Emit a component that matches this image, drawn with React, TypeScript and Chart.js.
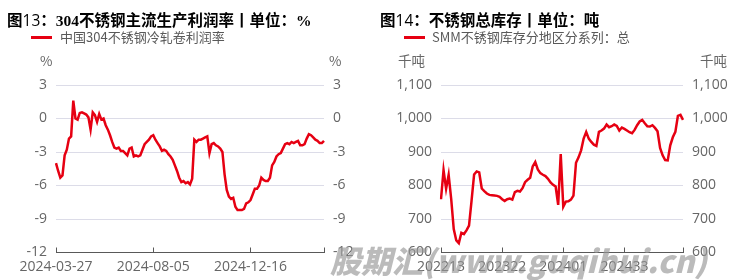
import React, { useEffect, useRef } from "react";
import { Chart, registerables } from "chart.js";

Chart.register(...registerables);

// ---------- Data ----------
const profitTickLabels = ["2024-03-27", "2024-08-05", "2024-12-16"];
const profitTickEvery = 45;
const profitValues = [
  -4.0, -4.7, -5.3, -5.1, -3.3, -2.8, -1.8, -1.6, 1.6, 0.0,
  -0.1, 0.5, 0.55, 0.45, 0.35, 0.1, -1.0, 0.55, 0.3, -0.3,
  0.4, -0.1, 0.0, -0.6, -1.0, -1.5, -2.1, -2.6, -2.7, -2.6,
  -2.9, -2.9, -3.1, -3.3, -2.7, -2.6, -3.4, -3.3, -3.4, -3.3,
  -2.8, -2.3, -2.1, -1.9, -1.6, -1.5, -1.9, -2.2, -2.5, -2.9,
  -2.8, -2.9, -3.2, -3.4, -3.7, -4.2, -4.7, -5.3, -5.7, -5.6,
  -5.8, -5.7, -5.9, -5.4, -1.9, -2.1, -1.9, -1.9, -1.8, -1.7,
  -1.6, -3.1, -2.3, -2.2, -2.4, -2.5, -2.7, -3.0, -5.0, -6.4,
  -7.0, -7.2, -7.1, -7.9, -8.2, -8.2, -8.2, -8.1, -7.6, -7.5,
  -7.3, -6.8, -6.3, -6.3, -6.0, -5.3, -5.5, -5.6, -5.6, -5.3,
  -4.2, -3.9, -3.4, -3.2, -3.1, -2.7, -2.3, -2.2, -2.3, -2.1,
  -2.2, -2.1, -2.0, -2.4, -2.4, -2.3, -1.8, -1.4, -1.5, -1.7,
  -1.9, -2.0, -2.2, -2.2, -2.0,
];

const stockTickLabels = ["202213", "202322", "202401", "202433"];
const stockTickEvery = 24;
const stockValues = [
  759, 846, 790, 832, 760, 670, 636, 628, 659, 655,
  666, 680, 755, 833, 842, 839, 791, 783, 776, 772,
  771, 770, 769, 766, 759, 754, 759, 761, 758, 780,
  784, 782, 792, 810, 817, 823, 857, 870, 848, 837,
  832, 828, 820, 809, 802, 797, 742, 894, 737, 752,
  753, 758, 770, 868, 884, 905, 940, 960, 940, 930,
  922, 918, 960, 964, 970, 982, 974, 977, 982, 978,
  964, 973, 969, 964, 959, 956, 966, 980, 991, 996,
  986, 977, 976, 980, 972, 962, 912, 890, 876, 875,
  920, 944, 960, 1008, 1011, 996,
];

// ---------- Styles ----------
const FONT = "'Open Sans','Noto Sans CJK SC',sans-serif";
const CJK = "'Noto Sans CJK SC','Open Sans',sans-serif";
const RED = "#e60012";
const GRID = "#dcdce8";
const TICK = "#666666";
const AXIS = "#595959";

type PanelCfg = {
  values: number[];
  tickLabels: string[];
  tickEvery: number;
  min: number;
  max: number;
  step: number;
  leftW: number;
  rightW: number;
  fmt: (v: number) => string;
  name: string;
};

function buildChart(canvas: HTMLCanvasElement, cfg: PanelCfg) {
  const labels = cfg.values.map((_, i) => String(i));
  const last = cfg.values.length - 1;
  const tickLabelAt = (i: number): string | null => {
    if (i % cfg.tickEvery === 0 && i / cfg.tickEvery < cfg.tickLabels.length)
      return cfg.tickLabels[i / cfg.tickEvery];
    if (i === last) return "";
    return null;
  };
  const yCommon = {
    min: cfg.min,
    max: cfg.max,
    border: { display: false },
  };
  return new Chart(canvas, {
    type: "line",
    data: {
      labels,
      datasets: [
        {
          label: cfg.name,
          data: cfg.values,
          borderColor: RED,
          backgroundColor: RED,
          borderWidth: 2.5,
          pointRadius: 0,
          tension: 0,
          fill: false,
          yAxisID: "y",
        },
      ],
    },
    options: {
      animation: false,
      responsive: false,
      maintainAspectRatio: false,
      devicePixelRatio: 1,
      layout: { padding: { top: 85, left: 0, right: 0, bottom: 0 } },
      plugins: {
        legend: { display: false },
        title: { display: false },
        tooltip: { enabled: false },
      },
      scales: {
        x: {
          type: "category",
          offset: false,
          grid: {
            drawOnChartArea: false,
            drawTicks: true,
            tickLength: -5,
            color: (ctx: any) =>
              tickLabelAt(ctx.index) !== null ? AXIS : "rgba(0,0,0,0)",
          },
          border: { display: true, color: AXIS, width: 1 },
          ticks: {
            autoSkip: false,
            maxRotation: 0,
            minRotation: 0,
            padding: 11,
            color: TICK,
            font: { size: 14, family: FONT },
            callback: (_v: any, i: number) => {
              const t = tickLabelAt(i);
              return t === null ? "" : t;
            },
          },
          afterFit: (s: any) => {
            s.height = 27.5;
          },
        },
        y: {
          ...yCommon,
          position: "left",
          grid: { color: GRID, drawTicks: false, lineWidth: 1 },
          ticks: {
            stepSize: cfg.step,
            padding: 9,
            color: TICK,
            font: { size: 14, family: FONT },
            callback: (v: any) => cfg.fmt(Number(v)),
          },
          afterFit: (s: any) => {
            s.width = cfg.leftW;
          },
        },
        y2: {
          ...yCommon,
          position: "right",
          grid: { display: false, drawTicks: false },
          ticks: {
            stepSize: cfg.step,
            padding: 9,
            color: TICK,
            font: { size: 14, family: FONT },
            callback: (v: any) => cfg.fmt(Number(v)),
          },
          afterFit: (s: any) => {
            s.width = cfg.rightW;
          },
        },
      },
    } as any,
  });
}

function Panel(props: {
  left: number;
  cfg: PanelCfg;
  title: React.ReactNode;
  legend: string;
  legendLineX: number;
  legendTextX: number;
  unit: string;
  unitLeftX: number;
  unitRightX: number;
}) {
  const ref = useRef<HTMLCanvasElement | null>(null);
  useEffect(() => {
    if (!ref.current) return;
    const c = buildChart(ref.current, props.cfg);
    return () => c.destroy();
  }, []);
  const abs = (x: number, y: number): React.CSSProperties => ({
    position: "absolute",
    left: x,
    top: y,
    whiteSpace: "nowrap",
  });
  return (
    <div style={{ position: "absolute", left: props.left, top: 0, width: 365, height: 280 }}>
      <canvas ref={ref} width={365} height={280} style={{ position: "absolute", left: 0, top: 0, width: 365, height: 280 }} />
      <div style={{ ...abs(props.left === 0 ? 7 : 15, 8), fontFamily: CJK, fontSize: 15.5, fontWeight: 700, color: "#000", lineHeight: "22px" }}>
        {props.title}
      </div>
      <div style={{ ...abs(props.legendLineX, 35.5), width: 21, height: 3, background: RED }} />
      <div style={{ ...abs(props.legendTextX, 28), fontFamily: CJK, fontSize: 13, color: "#595959", lineHeight: "18px" }}>
        {props.legend}
      </div>
      <div style={{ ...abs(props.unitLeftX, 51), fontFamily: CJK, fontSize: 13.5, color: TICK, lineHeight: "18px" }}>{props.unit}</div>
      <div style={{ ...abs(props.unitRightX, 51), fontFamily: CJK, fontSize: 13.5, color: TICK, lineHeight: "18px" }}>{props.unit}</div>
    </div>
  );
}

const serif: React.CSSProperties = { fontFamily: "'Liberation Serif','DejaVu Serif',serif", fontWeight: 700 };
const thin: React.CSSProperties = { fontFamily: FONT, fontWeight: 400 };

export default function App() {
  const profitCfg: PanelCfg = {
    values: profitValues,
    tickLabels: profitTickLabels,
    tickEvery: profitTickEvery,
    min: -12,
    max: 3,
    step: 3,
    leftW: 56,
    rightW: 41,
    fmt: (v) => String(v),
    name: "中国304不锈钢冷轧卷利润率",
  };
  const stockCfg: PanelCfg = {
    values: stockValues,
    tickLabels: stockTickLabels,
    tickEvery: stockTickEvery,
    min: 600,
    max: 1100,
    step: 100,
    leftW: 76,
    rightW: 47,
    fmt: (v) => v.toLocaleString("en-US"),
    name: "SMM不锈钢库存分地区分系列：总",
  };
  return (
    <div style={{ position: "absolute", left: 0, top: 0, width: 730, height: 280, background: "#fff", overflow: "hidden" }}>
      <Panel
        left={0}
        cfg={profitCfg}
        title={
          <span>
            图<span style={thin}>13</span>：<span style={serif}>304</span>不锈钢主流生产利润率丨单位：<span style={serif}>%</span>
          </span>
        }
        legend="中国304不锈钢冷轧卷利润率"
        legendLineX={31}
        legendTextX={60}
        unit="%"
        unitLeftX={40}
        unitRightX={329}
      />
      <Panel
        left={365}
        cfg={stockCfg}
        title={
          <span>
            图<span style={thin}>14</span>：不锈钢总库存丨单位：吨
          </span>
        }
        legend="SMM不锈钢库存分地区分系列：总"
        legendLineX={39}
        legendTextX={67}
        unit="千吨"
        unitLeftX={33}
        unitRightX={335}
      />
      <div
        style={{
          position: "absolute",
          left: 330,
          top: 240,
          fontFamily: CJK,
          fontSize: 31,
          fontWeight: 900,
          fontStyle: "italic",
          color: "rgba(150,150,150,0.65)",
          whiteSpace: "nowrap",
          lineHeight: "40px",
          pointerEvents: "none",
        }}
      >
        股期汇(www.guqihui.cn)
      </div>
    </div>
  );
}
